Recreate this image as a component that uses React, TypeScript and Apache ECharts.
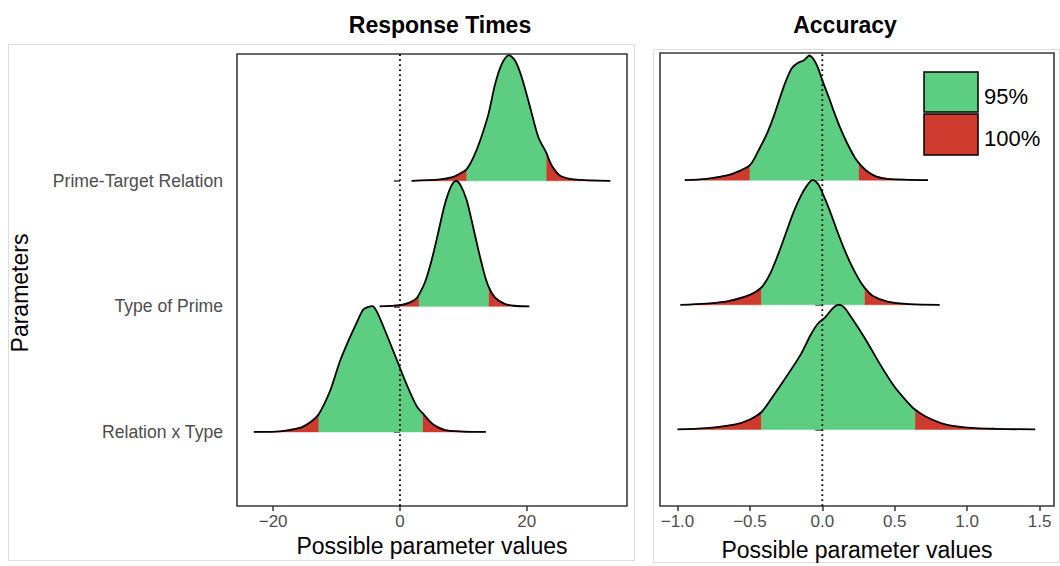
import React, { useEffect, useRef } from "react";
import * as echarts from "echarts";

// y positions: 1 = bottom ridge, 3 = top ridge
const CATEGORIES = ["Relation x Type", "Type of Prime", "Prime-Target Relation"];
const CATEGORY_POS = [1, 2, 3];

const RT_TICKS = [-20, 0, 20];
const ACC_TICKS = [-1.0, -0.5, 0.0, 0.5, 1.0, 1.5];

// ---- Response Times ----
const RT_PTR_X = [1.84, 6.32, 8.42, 9.74, 10.53, 11.58, 12.63, 13.95, 15.0, 16.05, 17.1, 18.16, 19.21, 20.53, 21.84, 23.05, 23.95, 25.27, 27.37, 33.16];
const RT_PTR_H = [0, 0.011, 0.032, 0.066, 0.093, 0.186, 0.319, 0.531, 0.77, 0.93, 1.0, 0.956, 0.823, 0.584, 0.345, 0.226, 0.12, 0.04, 0.011, 0];
const RT_PTR_CI = [10.53, 23.05];

const RT_TOP_X = [-3.2, 0, 1.5, 2.5, 3.0, 4.0, 5.0, 6.0, 7.0, 8.0, 8.8, 9.5, 10.5, 11.5, 12.5, 13.3, 13.95, 15, 16.5, 18, 20.4];
const RT_TOP_H = [0, 0.01, 0.03, 0.06, 0.093, 0.2, 0.37, 0.58, 0.8, 0.95, 1.0, 0.97, 0.85, 0.64, 0.42, 0.26, 0.16, 0.07, 0.02, 0.005, 0];
const RT_TOP_CI = [3.0, 13.95];

const RT_RXT_X = [-23.05, -18.95, -15.53, -13.95, -12.79, -11.05, -9.47, -8.16, -6.84, -5.79, -5.0, -4.21, -3.42, -2.1, -0.52, 1.05, 2.63, 3.53, 5.26, 7.37, 13.53];
const RT_RXT_H = [0, 0.005, 0.037, 0.085, 0.143, 0.324, 0.563, 0.723, 0.869, 0.975, 0.996, 1.0, 0.935, 0.776, 0.577, 0.378, 0.205, 0.151, 0.059, 0.013, 0];
const RT_RXT_CI = [-12.79, 3.53];

// ---- Accuracy ----
const AC_PTR_X = [-0.95, -0.8, -0.65, -0.58, -0.5, -0.44, -0.38, -0.33, -0.29, -0.25, -0.21, -0.17, -0.13, -0.11, -0.09, -0.06, -0.03, 0, 0.04, 0.08, 0.12, 0.17, 0.22, 0.25, 0.3, 0.37, 0.45, 0.73];
const AC_PTR_H = [0, 0.01, 0.04, 0.07, 0.12, 0.24, 0.38, 0.53, 0.67, 0.8, 0.9, 0.94, 0.96, 0.98, 1.0, 0.97, 0.9, 0.8, 0.68, 0.55, 0.43, 0.3, 0.19, 0.14, 0.08, 0.03, 0.01, 0];
const AC_PTR_CI = [-0.5, 0.25];

const AC_TOP_X = [-0.98, -0.8, -0.65, -0.5, -0.42, -0.36, -0.3, -0.25, -0.2, -0.15, -0.11, -0.07, -0.03, 0, 0.05, 0.1, 0.15, 0.2, 0.25, 0.29, 0.35, 0.45, 0.6, 0.81];
const AC_TOP_H = [0, 0.01, 0.03, 0.08, 0.14, 0.25, 0.42, 0.58, 0.74, 0.87, 0.95, 1.0, 0.97, 0.9, 0.76, 0.6, 0.45, 0.32, 0.21, 0.14, 0.07, 0.025, 0.005, 0];
const AC_TOP_CI = [-0.42, 0.29];

const AC_RXT_X = [-1.0, -0.8, -0.6, -0.5, -0.42, -0.35, -0.25, -0.15, -0.08, -0.03, 0.02, 0.07, 0.11, 0.15, 0.2, 0.3, 0.4, 0.5, 0.58, 0.64, 0.72, 0.85, 1.0, 1.2, 1.47];
const AC_RXT_H = [0, 0.01, 0.04, 0.08, 0.14, 0.25, 0.42, 0.6, 0.76, 0.85, 0.9, 0.97, 1.0, 0.98, 0.9, 0.72, 0.52, 0.34, 0.23, 0.16, 0.1, 0.04, 0.015, 0.005, 0];
const AC_RXT_CI = [-0.42, 0.64];

const LEGEND_LABELS = ["95%", "100%"];

const GREEN = "#5DCD82";
const RED = "#CF3A2E";

type Curve = { base: number; x: number[]; h: number[]; ci: number[] };

const RT_CURVES: Curve[] = [
  { base: CATEGORY_POS[2], x: RT_PTR_X, h: RT_PTR_H, ci: RT_PTR_CI },
  { base: CATEGORY_POS[1], x: RT_TOP_X, h: RT_TOP_H, ci: RT_TOP_CI },
  { base: CATEGORY_POS[0], x: RT_RXT_X, h: RT_RXT_H, ci: RT_RXT_CI },
];
const AC_CURVES: Curve[] = [
  { base: CATEGORY_POS[2], x: AC_PTR_X, h: AC_PTR_H, ci: AC_PTR_CI },
  { base: CATEGORY_POS[1], x: AC_TOP_X, h: AC_TOP_H, ci: AC_TOP_CI },
  { base: CATEGORY_POS[0], x: AC_RXT_X, h: AC_RXT_H, ci: AC_RXT_CI },
];

function makeRender(curves: Curve[]) {
  return (params: any, api: any) => {
    const c = curves[params.dataIndex];
    const pt = (x: number, h: number) => api.coord([x, c.base + h]);
    const seg = (f: (x: number) => boolean) => {
      const idx = c.x.map((_, k) => k).filter((k) => f(c.x[k]));
      const pts = idx.map((k) => pt(c.x[k], c.h[k]));
      return [pt(c.x[idx[0]], 0), ...pts, pt(c.x[idx[idx.length - 1]], 0)];
    };
    const z = params.dataIndex * 3;
    return {
      type: "group",
      children: [
        { type: "polygon", z2: z, shape: { points: seg((x) => x <= c.ci[0]) }, style: { fill: RED, stroke: RED, lineWidth: 0.5 } },
        { type: "polygon", z2: z, shape: { points: seg((x) => x >= c.ci[1]) }, style: { fill: RED, stroke: RED, lineWidth: 0.5 } },
        { type: "polygon", z2: z + 1, shape: { points: seg((x) => x >= c.ci[0] && x <= c.ci[1]) }, style: { fill: GREEN, stroke: GREEN, lineWidth: 0.5 } },
        {
          type: "polyline",
          z2: z + 2,
          shape: { points: c.x.map((x, k) => pt(x, c.h[k])), smooth: 0.3 },
          style: { fill: "none", stroke: "#000", lineWidth: 1.8 },
        },
      ],
    };
  };
}

export default function App() {
  const ref = useRef<HTMLDivElement>(null);
  useEffect(() => {
    document.body.style.margin = "0";
    const chart = echarts.init(ref.current!, undefined, { renderer: "svg" });
    const labelFont = "Liberation Sans, Arial, Helvetica, sans-serif";
    const rtY = { min: 0.41, max: 4.01 };
    const acY = { min: 0.386, max: 4.02 };
    const minus = (s: string) => s.replace("-", "\u2212");
    const option: any = {
      animation: false,
      textStyle: { fontFamily: labelFont },
      grid: [
        { left: 237, top: 54, width: 390, height: 452, show: true, borderColor: "#3a3a3a", borderWidth: 1.6, backgroundColor: "transparent" },
        { left: 660, top: 53, width: 394, height: 456, show: true, borderColor: "#3a3a3a", borderWidth: 1.6, backgroundColor: "transparent" },
      ],
      xAxis: [
        {
          type: "value", gridIndex: 0, min: -25.7, max: 35.8,
          axisLine: { show: false }, splitLine: { show: false },
          axisTick: { show: true, length: 5, customValues: RT_TICKS, lineStyle: { color: "#333", width: 1.5 } },
          axisLabel: { customValues: RT_TICKS, color: "#4d4d4d", fontSize: 17, margin: 7, formatter: (v: number) => minus(String(v)) },
          name: "Possible parameter values", nameLocation: "middle", nameGap: 27,
          nameTextStyle: { color: "#000", fontSize: 23 },
        },
        {
          type: "value", gridIndex: 1, min: -1.121, max: 1.6,
          axisLine: { show: false }, splitLine: { show: false },
          axisTick: { show: true, length: 5, customValues: ACC_TICKS, lineStyle: { color: "#333", width: 1.5 } },
          axisLabel: { customValues: ACC_TICKS, color: "#4d4d4d", fontSize: 17, margin: 7, formatter: (v: number) => minus(v.toFixed(1)) },
          name: "Possible parameter values", nameLocation: "middle", nameGap: 32,
          nameTextStyle: { color: "#000", fontSize: 23 },
        },
      ],
      yAxis: [
        {
          type: "value", gridIndex: 0, min: rtY.min, max: rtY.max,
          axisLine: { show: false }, splitLine: { show: false },
          axisTick: { show: true, length: 6, customValues: CATEGORY_POS, lineStyle: { color: "#333", width: 1.5 } },
          axisLabel: {
            customValues: CATEGORY_POS, color: "#4d4d4d", fontSize: 17.6, margin: 14,
            formatter: (v: number) => CATEGORIES[CATEGORY_POS.indexOf(Math.round(v))] || "",
          },
        },
        {
          type: "value", gridIndex: 1, min: acY.min, max: acY.max,
          axisLine: { show: false }, splitLine: { show: false },
          axisTick: { show: true, length: 7, customValues: CATEGORY_POS, lineStyle: { color: "#333", width: 1.5 } },
          axisLabel: { show: false },
        },
      ],
      series: [
        {
          type: "custom", xAxisIndex: 0, yAxisIndex: 0, clip: true,
          data: RT_CURVES.map((c) => [c.ci[0], c.base]),
          renderItem: makeRender(RT_CURVES), z: 2,
        },
        {
          type: "custom", xAxisIndex: 1, yAxisIndex: 1, clip: true,
          data: AC_CURVES.map((c) => [c.ci[0], c.base]),
          renderItem: makeRender(AC_CURVES), z: 2,
        },
        {
          type: "line", xAxisIndex: 0, yAxisIndex: 0, z: 5, symbol: "none", silent: true,
          data: [[0, rtY.min], [0, rtY.max]],
          lineStyle: { color: "#000", width: 1.8, type: [1.8, 3.2] },
        },
        {
          type: "line", xAxisIndex: 1, yAxisIndex: 1, z: 5, symbol: "none", silent: true,
          data: [[0, acY.min], [0, acY.max]],
          lineStyle: { color: "#000", width: 1.8, type: [1.8, 3.2] },
        },
      ],
      graphic: [
        { type: "rect", z: -1, shape: { x: 8.5, y: 44.5, width: 626, height: 516 }, style: { fill: "none", stroke: "#dddddd", lineWidth: 1 } },
        { type: "rect", z: -1, shape: { x: 653.5, y: 49.5, width: 406, height: 513 }, style: { fill: "none", stroke: "#dddddd", lineWidth: 1 } },
        { type: "text", x: 440, y: 25, style: { text: "Response Times", font: "bold 23px Liberation Sans, Arial, sans-serif", fill: "#000", align: "center", verticalAlign: "middle" } },
        { type: "text", x: 845, y: 25, style: { text: "Accuracy", font: "bold 23px Liberation Sans, Arial, sans-serif", fill: "#000", align: "center", verticalAlign: "middle" } },
        { type: "text", x: 20, y: 293, rotation: Math.PI / 2, style: { text: "Parameters", font: "23px Liberation Sans, Arial, sans-serif", fill: "#000", align: "center", verticalAlign: "middle" } },
        { type: "rect", z: 20, shape: { x: 924, y: 72, width: 54, height: 40 }, style: { fill: GREEN, stroke: "#000", lineWidth: 1.5 } },
        { type: "rect", z: 20, shape: { x: 924, y: 114, width: 54, height: 41 }, style: { fill: RED, stroke: "#000", lineWidth: 1.5 } },
        { type: "text", z: 20, x: 984, y: 96, style: { text: LEGEND_LABELS[0], font: "22px Liberation Sans, Arial, sans-serif", fill: "#000", align: "left", verticalAlign: "middle" } },
        { type: "text", z: 20, x: 984, y: 138, style: { text: LEGEND_LABELS[1], font: "22px Liberation Sans, Arial, sans-serif", fill: "#000", align: "left", verticalAlign: "middle" } },
      ],
    };
    chart.setOption(option);
    return () => chart.dispose();
  }, []);
  return <div ref={ref} style={{ width: 1060, height: 566 }} />;
}
